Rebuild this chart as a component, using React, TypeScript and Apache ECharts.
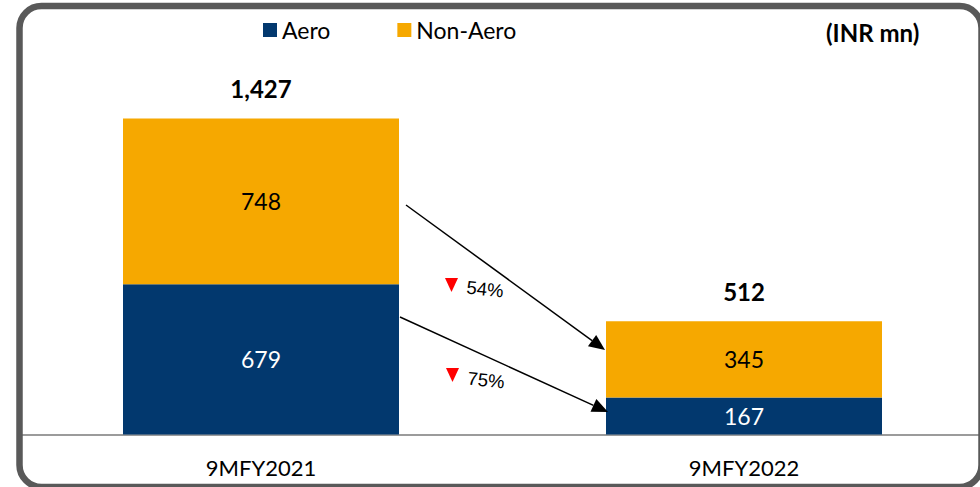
import React, { useEffect, useRef } from "react";
import * as echarts from "echarts";

const categories = ["9MFY2021", "9MFY2022"];
const aero = [679, 167];
const nonAero = [748, 345];
const totals = [1427, 512];
const changes = ["54%", "75%"];
const unitLabel = "(INR mn)";

const FONT = "Lato, 'Noto Sans', sans-serif";
const BLUE = "#02386E";
const ORANGE = "#F6A800";

function arrow(x1: number, y1: number, x2: number, y2: number, head = 16, half = 7) {
  const dx = x2 - x1;
  const dy = y2 - y1;
  const len = Math.hypot(dx, dy);
  const ux = dx / len;
  const uy = dy / len;
  const bx = x2 - ux * head;
  const by = y2 - uy * head;
  return [
    {
      type: "line",
      z: 100,
      shape: { x1, y1, x2: bx, y2: by },
      style: { stroke: "#000", lineWidth: 1.5 },
    },
    {
      type: "polygon",
      z: 100,
      shape: {
        points: [
          [x2, y2],
          [bx - uy * half, by + ux * half],
          [bx + uy * half, by - ux * half],
        ],
      },
      style: { fill: "#000" },
    },
  ];
}

function downTriangle(x: number, y: number, w = 13, h = 14) {
  return {
    type: "polygon",
    z: 100,
    shape: { points: [[x, y], [x + w, y], [x + w / 2, y + h]] },
    style: { fill: "#FF0000" },
  };
}

function pctText(text: string, cx: number, cy: number) {
  return {
    type: "text",
    z: 100,
    x: cx,
    y: cy,
    rotation: -0.1,
    style: {
      text,
      fontFamily: "'Liberation Sans', Arial, sans-serif",
      fontSize: 18.5,
      fill: "#000",
      align: "center",
      verticalAlign: "middle",
    },
  };
}

export default function App() {
  const ref = useRef<HTMLDivElement>(null);

  useEffect(() => {
    if (!ref.current) return;
    const chart = echarts.init(ref.current, null, { renderer: "svg" });

    const option: any = {
      animation: false,
      backgroundColor: "#fff",
      textStyle: { fontFamily: FONT },
      title: {
        text: unitLabel,
        left: 821,
        top: 14,
        padding: 5,
        textStyle: { fontFamily: FONT, fontSize: 24, fontWeight: "bold", color: "#000", lineHeight: 26 },
      },
      legend: {
        data: ["Aero", "Non-Aero"],
        left: 258,
        top: 13,
        icon: "rect",
        itemWidth: 14,
        itemHeight: 14,
        itemGap: 67,
        textStyle: { fontFamily: FONT, fontSize: 23, color: "#000", lineHeight: 24 },
      },
      grid: { left: 19.5, width: 966, top: 36, height: 398.5 },
      xAxis: {
        type: "category",
        data: categories,
        axisLine: { show: true, lineStyle: { color: "#9B9B9B", width: 2 } },
        axisTick: { show: false },
        axisLabel: { fontFamily: FONT, fontSize: 22, color: "#000", margin: 21, lineHeight: 24 },
      },
      yAxis: {
        type: "value",
        min: 0,
        max: 1800,
        show: false,
        splitLine: { show: false },
      },
      series: [
        {
          name: "Aero",
          type: "bar",
          stack: "total",
          data: aero,
          barWidth: 276,
          itemStyle: { color: BLUE },
          label: {
            show: true,
            position: "inside",
            color: "#fff",
            fontFamily: FONT,
            fontSize: 23,
          },
        },
        {
          name: "Non-Aero",
          type: "bar",
          stack: "total",
          data: nonAero,
          barWidth: 276,
          itemStyle: { color: ORANGE },
          label: {
            show: true,
            position: "inside",
            color: "#000",
            fontFamily: FONT,
            fontSize: 23,
          },
        },
        {
          name: "Total",
          type: "bar",
          stack: "total",
          data: totals.map(() => 0),
          barWidth: 276,
          itemStyle: { color: "transparent" },
          label: {
            show: true,
            position: "top",
            distance: 17,
            color: "#000",
            fontFamily: FONT,
            fontSize: 24,
            fontWeight: "bold",
            lineHeight: 26,
            formatter: (p: any) => totals[p.dataIndex].toLocaleString("en-US"),
          },
        },
      ],
      graphic: [
        {
          type: "rect",
          z: 200,
          shape: { x: 19.5, y: 6, width: 962, height: 481, r: 22 },
          style: { fill: "none", stroke: "#595959", lineWidth: 6.5 },
        },
        ...arrow(406, 205, 605, 350),
        ...arrow(400, 317, 608, 412),
        downTriangle(445, 278),
        downTriangle(446, 368),
        pctText(changes[0], 485, 289),
        pctText(changes[1], 486, 380),
      ],
    };

    chart.setOption(option);
    return () => chart.dispose();
  }, []);

  return (
    <div
      ref={ref}
      style={{ position: "fixed", left: 0, top: 0, width: 1000, height: 487, background: "#fff" }}
    />
  );
}
